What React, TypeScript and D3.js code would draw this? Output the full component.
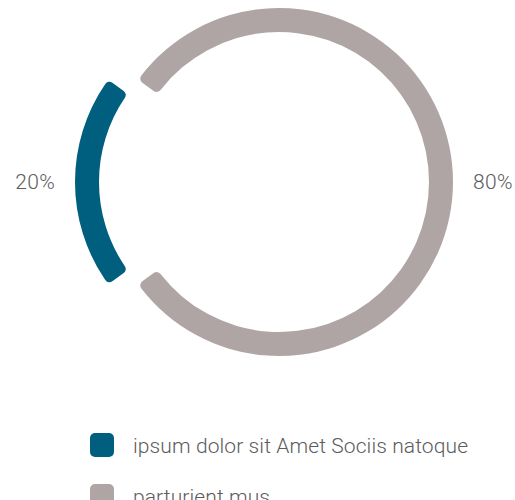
import React, { useEffect, useRef } from 'react';
import * as d3 from 'd3';

// data
const categories = ['ipsum dolor sit Amet Sociis natoque', 'parturient mus'];
const values = [20, 80];
const colors = ['#005e7e', '#b0a5a5'];

const W = 515;
const H = 500;

const App = () => {
  const svgRef = useRef<SVGSVGElement | null>(null);

  useEffect(() => {
    if (!svgRef.current) return;
    const svg = d3.select(svgRef.current);
    svg.selectAll('*').remove();

    const data = categories.map((c, i) => ({ label: c, value: values[i], color: colors[i] }));
    const total = d3.sum(values);

    const cx = 264;
    const cy = 182;
    const outerR = 174;
    const innerR = 150;
    const sliceOffset = 15;
    const labelR = 209;

    // blue slice centred on the left side
    const start = (3 * Math.PI) / 2 - (values[0] / total) * Math.PI;
    const pie = d3
      .pie<any>()
      .sort(null)
      .value((d) => d.value)
      .startAngle(start)
      .endAngle(start + 2 * Math.PI);
    const arcs = pie(data);

    const arc = d3.arc<any>().innerRadius(innerR).outerRadius(outerR).cornerRadius(5);
    const mid = (d: any) => (d.startAngle + d.endAngle) / 2;

    const g = svg.append('g').attr('transform', `translate(${cx},${cy})`);

    g.selectAll('.slice')
      .data(arcs)
      .join('path')
      .attr('class', 'slice')
      .attr('d', arc)
      .attr('fill', (d) => d.data.color)
      .attr('transform', (d) => {
        const a = mid(d);
        return `translate(${Math.sin(a) * sliceOffset},${-Math.cos(a) * sliceOffset})`;
      });

    // percentage labels
    g.selectAll('.pct')
      .data(arcs)
      .join('text')
      .attr('class', 'pct')
      .attr('x', (d) => Math.sin(mid(d)) * labelR)
      .attr('y', (d) => -Math.cos(mid(d)) * labelR)
      .attr('dy', '0.35em')
      .attr('text-anchor', (d) => (Math.sin(mid(d)) < 0 ? 'end' : 'start'))
      .attr('font-family', 'Roboto, sans-serif')
      .attr('font-weight', 300)
      .attr('font-size', 21)
      .attr('letter-spacing', 0.3)
      .attr('fill', '#5c5c5c')
      .text((d) => `${Math.round((d.data.value / total) * 100)}%`);

    // legend
    const legend = svg.append('g').attr('transform', 'translate(90,433)');
    const item = legend
      .selectAll('.item')
      .data(data)
      .join('g')
      .attr('class', 'item')
      .attr('transform', (_d, i) => `translate(0,${i * 51})`);

    item
      .append('rect')
      .attr('width', 24)
      .attr('height', 24)
      .attr('rx', 5)
      .attr('fill', (d) => d.color);

    item
      .append('text')
      .attr('x', 43)
      .attr('y', 20)
      .attr('font-family', 'Roboto, sans-serif')
      .attr('font-weight', 300)
      .attr('font-size', 21)
      .attr('letter-spacing', 0.1)
      .attr('fill', '#5c5c5c')
      .text((d) => d.label);
  }, []);

  return (
    <div style={{ position: 'fixed', left: 0, top: 0, width: W, height: H, background: '#fff' }}>
      <svg ref={svgRef} width={W} height={H}></svg>
    </div>
  );
};

export default App;
